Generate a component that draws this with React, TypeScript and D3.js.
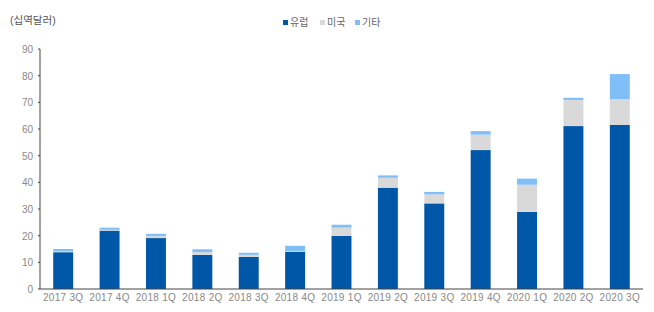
import React from "react";
import * as d3 from "d3";

const categories = ["2017 3Q","2017 4Q","2018 1Q","2018 2Q","2018 3Q","2018 4Q","2019 1Q","2019 2Q","2019 3Q","2019 4Q","2020 1Q","2020 2Q","2020 3Q"];
const europe = [13.8, 21.9, 19.1, 12.8, 12.0, 13.9, 19.9, 38.0, 32.1, 52.1, 28.9, 61.1, 61.5];
const usa = [0.4, 0.3, 0.8, 1.0, 0.8, 0.3, 3.1, 3.7, 3.4, 5.8, 10.2, 9.8, 9.7];
const other = [0.8, 0.8, 0.8, 1.1, 0.8, 2.0, 1.1, 0.9, 0.9, 1.3, 2.3, 0.8, 9.4];
const seriesNames = ["유럽", "미국", "기타"];
const colors = ["#0057A8", "#D9D9D9", "#80BEF8"];
const yTicks = [0, 10, 20, 30, 40, 50, 60, 70, 80, 90];
const unitLabel = "(십역달러)";

export default function App() {
  const W = 654, H = 312;
  const left = 40, right = 643, top = 49, bottom = 289;
  const x = d3.scaleBand<string>().domain(categories).range([left, right]).paddingInner(0.57).paddingOuter(0.285);
  const y = d3.scaleLinear().domain([0, 90]).range([bottom, top]);
  const rows = categories.map((c, i) => ({ cat: c, s0: europe[i], s1: usa[i], s2: other[i] }));
  const stack = d3.stack<any>().keys(["s0", "s1", "s2"])(rows);
  const font = "'Liberation Sans', Arial, 'Noto Sans CJK KR', sans-serif";
  const legendX = [283, 320, 355];
  return (
    <svg width={W} height={H} style={{ position: "absolute", left: 0, top: 0 }} fontFamily={font}>
      <rect width={W} height={H} fill="#fff" />
      <text x={10} y={24} fontSize={10.5} fill="#555">{unitLabel}</text>
      {seriesNames.map((n, i) => (
        <g key={n}>
          <rect x={legendX[i]} y={20} width={5} height={5} fill={colors[i]} />
          <text x={legendX[i] + 7} y={26} fontSize={10} fill="#666">{n}</text>
        </g>
      ))}
      {stack.map((layer, li) => (
        <g key={li} fill={colors[li]}>
          {layer.map((d, i) => (
            <rect key={i} x={x(categories[i])} y={y(d[1])} width={x.bandwidth()} height={Math.max(0, y(d[0]) - y(d[1]))} />
          ))}
        </g>
      ))}
      <line x1={left} x2={left} y1={top} y2={bottom} stroke="#444" strokeWidth={1} />
      {yTicks.map(t => (
        <g key={t}>
          <line x1={left - 2} x2={left} y1={y(t)} y2={y(t)} stroke="#444" />
          <text x={33} y={y(t) + 4} fontSize={10} fill="#888" textAnchor="end">{t}</text>
        </g>
      ))}
      <line x1={left} x2={right} y1={bottom} y2={bottom} stroke="#444" strokeWidth={1} />
      {categories.map(c => (
        <text key={c} x={(x(c) as number) + x.bandwidth() / 2} y={301} fontSize={10} fill="#888" textAnchor="middle" letterSpacing={0.3}>{c}</text>
      ))}
    </svg>
  );
}
